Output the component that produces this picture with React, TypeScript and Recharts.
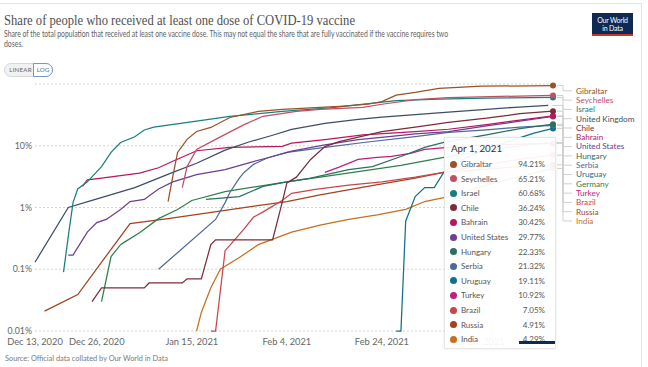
import React from 'react';
import { LineChart, Line, XAxis, YAxis, CartesianGrid } from 'recharts';

// ---- data (day = days since Dec 13, 2020; value = % of population) ----
const BASE_UTC = Date.UTC(2020, 11, 13);
const END_DAY = 109; // Apr 1, 2021
const MONTHS = ['Jan', 'Feb', 'Mar', 'Apr', 'May', 'Jun', 'Jul', 'Aug', 'Sep', 'Oct', 'Nov', 'Dec'];
const xTicks = [0, 13, 33, 53, 73, 93];
const yTicks = [0.01, 0.1, 1, 10];
const yTickLabels: Record<string, string> = { '0.01': '0.01%', '0.1': '0.1%', '1': '1%', '10': '10%' };

const gibraltar: [number, number][] = [[28, 1.25], [29, 3.2], [30, 7.8], [32, 12.7], [34, 17], [37, 19.8], [41, 28.7], [47, 36], [52, 38.7], [59, 41.6], [65, 44], [70, 47], [73, 52], [76, 66], [80, 73], [85, 85], [94, 92], [109, 94.21]];
const seychelles: [number, number][] = [[31, 2.1], [32, 4.6], [34, 8.7], [38, 12.7], [44, 22], [48, 30], [55, 36], [60, 38.7], [69, 42], [73, 47], [80, 56], [87, 60], [98, 63], [109, 65.21]];
const israel: [number, number][] = [[6, 0.09], [7, 0.34], [8, 1.2], [9, 2.0], [11, 2.6], [14, 4.6], [16, 7.8], [18, 11.3], [21, 14], [23, 18], [25, 20], [34, 25], [41, 30], [52, 36], [62, 41], [76, 54], [85, 57], [95, 59], [109, 60.68]];
const unitedKingdom: [number, number][] = [[0, 0.13], [7, 1.0], [12, 1.3], [21, 2.1], [29, 3.7], [34, 5.2], [40, 8.5], [45, 11.5], [50, 14.8], [54, 18.4], [61, 23], [68, 26.7], [73, 29], [80, 32], [87, 35], [95, 39], [101, 42], [108, 45]];
const chile: [number, number][] = [[12, 0.03], [14, 0.05], [23, 0.05], [24, 0.06], [31, 0.06], [32, 0.07], [35, 0.07], [37, 0.25], [38, 0.3], [50, 0.3], [52, 1.2], [53, 2.5], [55, 3.1], [58, 6], [61, 9.7], [64, 11.7], [73, 17], [80, 20], [87, 24], [95, 28], [102, 33], [109, 36.24]];
const bahrain: [number, number][] = [[10, 2.2], [11, 2.8], [14, 3.0], [22, 3.6], [26, 4.4], [29, 5.6], [34, 8.3], [41, 9.4], [52, 9.8], [54, 11], [61, 12.6], [69, 15], [80, 17], [87, 18.5], [95, 22], [102, 26], [109, 30.42]];
const unitedStates: [number, number][] = [[7, 0.17], [8, 0.17], [11, 0.4], [13, 0.57], [15, 0.64], [18, 0.93], [20, 1.25], [23, 1.35], [26, 2.0], [29, 2.6], [34, 3.4], [40, 4.1], [45, 5.3], [50, 6.7], [54, 8.2], [61, 10.3], [68, 12.6], [75, 14.2], [80, 15.5], [87, 17], [95, 21], [102, 25], [109, 29.77]];
const hungary: [number, number][] = [[36, 1.35], [43, 1.5], [48, 2.2], [53, 2.6], [58, 3.0], [66, 4.1], [71, 4.6], [77, 6.7], [82, 9.4], [86, 11.3], [95, 15], [102, 19], [109, 22.33]];
const serbia: [number, number][] = [[26, 0.1], [38, 0.64], [40, 1.2], [41, 1.75], [43, 3.0], [44, 3.7], [46, 5.0], [49, 6.4], [53, 7.8], [61, 9.4], [70, 11.5], [80, 14], [87, 16.4], [95, 18], [102, 20], [109, 21.32]];
const uruguay: [number, number][] = [[76, 0.01], [77, 0.01], [78, 0.6], [80, 1.5], [82, 2.1], [84, 2.1], [86, 3.7], [90, 6], [95, 9], [100, 12], [105, 16], [109, 19.11]];
const germany: [number, number][] = [[14, 0.03], [16, 0.16], [18, 0.25], [19, 0.28], [22, 0.39], [26, 0.66], [30, 0.93], [33, 1.3], [40, 1.8], [47, 2.2], [53, 2.6], [60, 3.1], [68, 3.8], [77, 4.8], [86, 6.5], [95, 8.3], [102, 10], [108, 11.2]];
const turkey: [number, number][] = [[61, 3.7], [64, 4.5], [68, 6.0], [72, 6.5], [75, 6.7], [79, 7.5], [82, 8.7], [87, 9.4], [95, 10.2], [102, 10.6], [109, 10.92]];
const brazil: [number, number][] = [[37, 0.01], [38, 0.01], [40, 0.2], [42, 0.3], [44, 0.45], [46, 0.7], [48, 0.85], [52, 1.3], [54, 1.7], [59, 1.96], [66, 2.3], [73, 2.6], [80, 3.1], [86, 3.7], [95, 5], [102, 6], [109, 7.05]];
const russia: [number, number][] = [[2, 0.021], [9, 0.039], [20, 0.55], [28, 0.66], [40, 0.9], [53, 1.25], [60, 1.6], [70, 2.2], [80, 3.0], [86, 3.7], [95, 4.2], [102, 4.6], [109, 4.91]];
const india: [number, number][] = [[34, 0.01], [35, 0.02], [37, 0.05], [39, 0.1], [43, 0.155], [47, 0.25], [54, 0.4], [60, 0.52], [66, 0.64], [72, 0.76], [78, 0.93], [82, 1.25], [86, 1.45], [95, 2.3], [102, 3.2], [109, 4.29]];

const countries = ['Gibraltar', 'Seychelles', 'Israel', 'United Kingdom', 'Chile', 'Bahrain', 'United States', 'Hungary', 'Serbia', 'Uruguay', 'Germany', 'Turkey', 'Brazil', 'Russia', 'India'];
const seriesPoints = [gibraltar, seychelles, israel, unitedKingdom, chile, bahrain, unitedStates, hungary, serbia, uruguay, germany, turkey, brazil, russia, india];
const colors = ['#9a5129', '#c15065', '#18807a', '#3c4e66', '#7d2b3a', '#b8175f', '#6d3e91', '#2d6f5e', '#4c6a9c', '#12708c', '#2e8049', '#be1f7c', '#c8464e', '#a4421d', '#c5701c'];

// ---- layout constants ----
const LABEL_X = 576;
const LABEL_TOP = 90.8;
const LABEL_STEP = 9.3;
const LEADER_X1 = 563;
const LEADER_X2 = 572;

const dayLabel = (d: number) => {
  const dt = new Date(BASE_UTC + d * 86400000);
  return `${MONTHS[dt.getUTCMonth()]} ${dt.getUTCDate()}, ${dt.getUTCFullYear()}`;
};

type Series = { name: string; color: string; points: [number, number][] };
const series: Series[] = countries.map((name, i) => ({ name, color: colors[i], points: seriesPoints[i] }));
const lastVal = (s: Series) => s.points[s.points.length - 1][1];
const ranked = [...series].sort((a, b) => lastVal(b) - lastVal(a));
const rankOf = (name: string) => ranked.findIndex((s) => s.name === name);
const tooltipRows = ranked.filter((s) => s.points[s.points.length - 1][0] === END_DAY);

const makeDot = (s: Series) => (props: any) => {
  const { cx, cy, index } = props;
  const key = `dot-${s.name}-${index}`;
  if (index !== s.points.length - 1 || cx == null || cy == null) return <g key={key} />;
  const slotY = LABEL_TOP + rankOf(s.name) * LABEL_STEP;
  const endsAtLast = s.points[s.points.length - 1][0] === END_DAY;
  return (
    <g key={key}>
      <path d={`M${cx + 4},${cy}H${LEADER_X1}V${slotY}H${LEADER_X2}`} stroke="#cfcfcf" strokeWidth={1} fill="none" />
      {endsAtLast && <circle cx={cx} cy={cy} r={3} fill={s.color} />}
      <text x={LABEL_X} y={slotY} dy="0.35em" fontSize={8.2} fontFamily="Lato, sans-serif" fill={s.color}>
        {s.name}
      </text>
    </g>
  );
};

export default function App() {
  return (
    <div style={{ position: 'absolute', left: 0, top: 0, width: 648, height: 367, background: '#fff', overflow: 'hidden', fontFamily: 'Lato, sans-serif' }}>
      <div style={{ position: 'absolute', left: -1, top: 3, width: 643, height: 400, border: '1px solid #e3e3e3', boxSizing: 'border-box' }} />

      <LineChart width={648} height={367} margin={{ top: 84, right: 95, bottom: 0, left: 0 }} style={{ position: 'absolute', left: 0, top: 0 }}>
        <CartesianGrid vertical={false} strokeDasharray="2 2" stroke="#d4d4d4" />
        <XAxis
          dataKey="day"
          type="number"
          domain={[0, END_DAY]}
          ticks={xTicks}
          interval={0}
          tickFormatter={dayLabel}
          axisLine={false}
          tickLine={false}
          tickSize={6}
          tickMargin={1}
          height={36}
          tick={{ fontSize: 9.3, fill: '#666', fontFamily: 'Lato, sans-serif' }}
        />
        <YAxis
          type="number"
          scale="log"
          domain={[0.01, 100]}
          ticks={yTicks}
          interval={0}
          tickFormatter={(v: number) => yTickLabels[String(v)] ?? `${v}%`}
          axisLine={false}
          tickLine={false}
          tickSize={3}
          tickMargin={0}
          width={35}
          tick={{ fontSize: 8.8, fill: '#666', fontFamily: 'Lato, sans-serif' }}
        />
        {[...series].reverse().map((s) => (
          <Line
            key={s.name}
            data={s.points.map(([d, v]) => ({ day: d, v }))}
            dataKey="v"
            type="linear"
            stroke={s.color}
            strokeWidth={1.25}
            dot={makeDot(s)}
            activeDot={false}
            isAnimationActive={false}
          />
        ))}
      </LineChart>

      <svg width={648} height={80} style={{ position: 'absolute', left: 0, top: 0 }}>
        <text x={4} y={24.5} fontFamily="'Liberation Serif', 'DejaVu Serif', serif" fontSize={15.5} fill="#4f4f4f" textLength={351} lengthAdjust="spacingAndGlyphs">
          Share of people who received at least one dose of COVID-19 vaccine
        </text>
        <text x={4} y={37} fontFamily="Lato, sans-serif" fontSize={8.6} fill="#5e5e5e" textLength={444} lengthAdjust="spacingAndGlyphs">
          Share of the total population that received at least one vaccine dose. This may not equal the share that are fully vaccinated if the vaccine requires two
        </text>
        <text x={4} y={46.5} fontFamily="Lato, sans-serif" fontSize={8.6} fill="#5e5e5e" textLength={19} lengthAdjust="spacingAndGlyphs">
          doses.
        </text>
      </svg>

      {/* LINEAR / LOG toggle */}
      <div style={{ position: 'absolute', left: 4, top: 63, width: 49, height: 14, borderRadius: 7, background: '#f1f1f1', border: '1px solid #d8d8d8', boxSizing: 'border-box' }} />
      <div style={{ position: 'absolute', left: 7, top: 63, width: 27, height: 14, fontSize: 6.2, lineHeight: '14px', color: '#666', textAlign: 'center', letterSpacing: 0.2 }}>LINEAR</div>
      <div style={{ position: 'absolute', left: 33, top: 63, width: 20, height: 14, borderRadius: '0 7px 7px 0', background: '#fff', border: '1px solid #7b96c4', boxSizing: 'border-box', fontSize: 6.2, lineHeight: '12px', color: '#4a6fa8', textAlign: 'center' }}>LOG</div>

      {/* logo */}
      <div style={{ position: 'absolute', left: 592, top: 13, width: 41, height: 23, background: '#0e2a52', boxSizing: 'border-box', borderBottom: '2px solid #c8372d', color: '#fff', fontSize: 7, lineHeight: '8px', textAlign: 'center', paddingTop: 3, letterSpacing: -0.2 }}>
        Our World<br />in Data
      </div>

      {/* tooltip */}
      <div style={{ position: 'absolute', left: 444, top: 137, width: 112, height: 212, background: 'rgba(255,255,255,0.93)', border: '1px solid #e6e6e6', boxSizing: 'border-box', boxShadow: '0 0 3px rgba(0,0,0,0.08)' }}>
        <div style={{ position: 'absolute', left: 6, top: 4, fontSize: 9.8, color: '#333', whiteSpace: 'nowrap' }}>{dayLabel(END_DAY)}</div>
        {tooltipRows.map((s, i) => (
          <div key={s.name} style={{ position: 'absolute', left: 0, top: 19 + i * 14.6, width: 112, height: 14, fontSize: 8, lineHeight: '14px', color: '#555', whiteSpace: 'nowrap' }}>
            <span style={{ position: 'absolute', left: 5, top: 3.5, width: 7, height: 7, borderRadius: 4, background: s.color }} />
            <span style={{ position: 'absolute', left: 16 }}>{s.name}</span>
            <span style={{ position: 'absolute', right: 12 }}>{lastVal(s).toFixed(2)}%</span>
          </div>
        ))}
      </div>
      <div style={{ position: 'absolute', left: 519, top: 341, width: 36, height: 3, background: '#0e2a52' }} />

      <svg width={648} height={20} style={{ position: 'absolute', left: 0, top: 350 }}>
        <text x={5} y={11} fontFamily="Lato, sans-serif" fontSize={7.6} fill="#7a7a7a" textLength={163} lengthAdjust="spacingAndGlyphs">
          Source: Official data collated by Our World in Data
        </text>
      </svg>
    </div>
  );
}
